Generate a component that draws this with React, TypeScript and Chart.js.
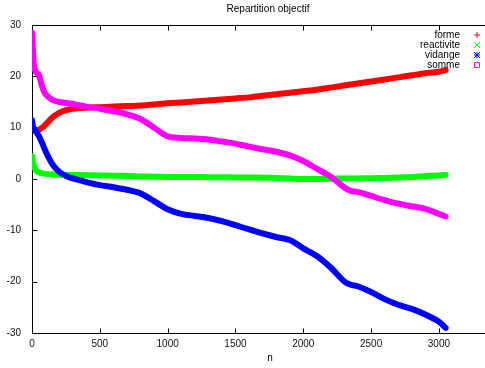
import React, { useEffect, useRef } from "react";
import { Chart, registerables } from "chart.js";

Chart.register(...registerables);

const TITLE = "Repartition objectif";
const X_LABEL = "n";
const X_TICKS = [0, 500, 1000, 1500, 2000, 2500, 3000];
const Y_TICKS = [-30, -20, -10, 0, 10, 20, 30];

const n = [0, 5, 15, 30, 50, 75, 100, 150, 200, 250, 300, 400, 500, 600, 700, 800, 900, 1000, 1100, 1200, 1300, 1400, 1500, 1600, 1700, 1800, 1900, 2000, 2100, 2200, 2300, 2350, 2400, 2500, 2600, 2700, 2800, 2900, 3000, 3050];

const forme = [10.2, 9.9, 9.7, 9.5, 9.6, 10.0, 10.6, 12.0, 12.9, 13.4, 13.7, 13.9, 14.0, 14.1, 14.2, 14.3, 14.5, 14.75, 14.9, 15.1, 15.3, 15.5, 15.7, 15.9, 16.2, 16.5, 16.8, 17.1, 17.4, 17.8, 18.2, 18.4, 18.6, 19.0, 19.4, 19.8, 20.2, 20.6, 20.9, 21.2];

const reactivite = [4.5, 3.5, 2.5, 1.6, 1.3, 1.1, 1.0, 0.9, 0.85, 0.8, 0.8, 0.75, 0.7, 0.65, 0.6, 0.5, 0.45, 0.4, 0.4, 0.4, 0.35, 0.35, 0.3, 0.3, 0.25, 0.2, 0.1, 0.0, 0.0, 0.05, 0.1, 0.1, 0.1, 0.15, 0.2, 0.3, 0.4, 0.55, 0.7, 0.8];

const vidange = [11.5, 10.5, 9.8, 9.2, 8.4, 7.0, 5.4, 2.9, 1.4, 0.6, 0.1, -0.6, -1.2, -1.6, -2.1, -2.8, -4.3, -5.9, -6.8, -7.2, -7.6, -8.2, -9.0, -9.8, -10.6, -11.3, -11.9, -13.5, -15.0, -17.2, -19.9, -20.6, -20.9, -22.0, -23.4, -24.5, -25.3, -26.4, -27.8, -29.0];

const somme = [28.5, 26.0, 22.0, 20.8, 20.3, 18.0, 16.5, 15.4, 15.0, 14.8, 14.6, 14.1, 13.7, 13.2, 12.6, 11.7, 10.0, 8.3, 8.0, 7.9, 7.7, 7.3, 6.9, 6.3, 5.8, 5.3, 4.6, 3.5, 2.0, 0.5, -1.6, -2.3, -2.5, -3.3, -4.1, -4.8, -5.3, -5.8, -6.8, -7.3];

const SERIES = [
  { label: "forme", values: forme, color: "#ff0000", marker: "plus" },
  { label: "reactivite", values: reactivite, color: "#00ff00", marker: "cross" },
  { label: "vidange", values: vidange, color: "#0000ff", marker: "star" },
  { label: "somme", values: somme, color: "#ff00ff", marker: "square" },
];

const FONT = "'Liberation Sans', Arial, Helvetica, sans-serif";

function drawMarker(ctx: CanvasRenderingContext2D, kind: string, x: number, y: number, color: string) {
  const r = 3;
  ctx.save();
  ctx.strokeStyle = color;
  ctx.lineWidth = 1;
  ctx.beginPath();
  if (kind === "plus" || kind === "star") {
    ctx.moveTo(x - r, y); ctx.lineTo(x + r, y);
    ctx.moveTo(x, y - r); ctx.lineTo(x, y + r);
  }
  if (kind === "cross" || kind === "star") {
    ctx.moveTo(x - r, y - r); ctx.lineTo(x + r, y + r);
    ctx.moveTo(x - r, y + r); ctx.lineTo(x + r, y - r);
  }
  if (kind === "square") {
    ctx.rect(x - r + 0.5, y - r + 0.5, 2 * r - 1, 2 * r - 1);
  }
  ctx.stroke();
  ctx.restore();
}

const framePlugin = {
  id: "gnuframe",
  beforeDatasetsDraw(chart: any) {
    const { ctx, chartArea } = chart;
    const xs = chart.scales.x;
    const ys = chart.scales.y;
    const L = Math.round(chartArea.left) + 0.5;
    const T = Math.round(chartArea.top) + 0.5;
    const B = Math.round(chartArea.bottom) + 0.5;
    const R = chartArea.right;
    ctx.save();
    ctx.strokeStyle = "#000";
    ctx.lineWidth = 1;
    ctx.beginPath();
    ctx.moveTo(R, T); ctx.lineTo(L, T); ctx.lineTo(L, B); ctx.lineTo(R, B);
    const tl = 5;
    X_TICKS.forEach((v) => {
      const px = Math.round(xs.getPixelForValue(v)) + 0.5;
      ctx.moveTo(px, B); ctx.lineTo(px, B - tl);
      ctx.moveTo(px, T); ctx.lineTo(px, T + tl);
    });
    Y_TICKS.forEach((v) => {
      const py = Math.round(ys.getPixelForValue(v)) + 0.5;
      ctx.moveTo(L, py); ctx.lineTo(L + tl, py);
    });
    ctx.stroke();
    ctx.restore();
  },
  afterDraw(chart: any) {
    const { ctx, chartArea } = chart;
    ctx.save();
    ctx.fillStyle = "#000";
    ctx.font = `10px ${FONT}`;
    ctx.textAlign = "center";
    ctx.textBaseline = "middle";
    ctx.fillText(TITLE, 268, 9);
    ctx.fillText(X_LABEL, 270, 358);
    ctx.textAlign = "right";
    const rowY = [35, 45, 55, 65];
    SERIES.forEach((s, i) => {
      ctx.fillStyle = "#000";
      ctx.fillText(s.label, 460, rowY[i]);
      drawMarker(ctx, s.marker, 477, rowY[i], s.color);
    });
    ctx.restore();
  },
};

export default function App() {
  const canvasRef = useRef<HTMLCanvasElement | null>(null);

  useEffect(() => {
    document.body.style.margin = "0";
    const canvas = canvasRef.current;
    if (!canvas) return;
    const datasets = SERIES.map((s, i) => ({
      label: s.label,
      data: n.map((x, k) => ({ x, y: s.values[k] })),
      borderColor: s.color,
      backgroundColor: s.color,
      borderWidth: 6,
      borderCapStyle: "round" as const,
      borderJoinStyle: "round" as const,
      pointRadius: 0,
      tension: 0.3,
      fill: false,
      order: SERIES.length - i,
    }));
    const chart = new Chart(canvas, {
      type: "line",
      data: { datasets },
      options: {
        responsive: false,
        animation: false,
        devicePixelRatio: 1,
        layout: { padding: { top: 25, left: 0, right: 0, bottom: 0 } },
        plugins: {
          legend: { display: false },
          title: { display: false },
          tooltip: { enabled: false },
        },
        scales: {
          x: {
            type: "linear",
            min: 0,
            max: 3340,
            afterFit: (scale: any) => { scale.height = 35; },
            afterBuildTicks: (scale: any) => {
              scale.ticks = X_TICKS.map((v) => ({ value: v }));
            },
            grid: { display: true, drawOnChartArea: false, drawTicks: false, color: "rgba(0,0,0,0)" },
            border: { display: false },
            ticks: {
              padding: 5,
              maxRotation: 0,
              autoSkip: false,
              color: "#111",
              font: { family: FONT, size: 10 },
              callback: (v: any) => String(v),
            },
          },
          y: {
            type: "linear",
            min: -30,
            max: 30,
            afterFit: (scale: any) => { scale.width = 32; },
            afterBuildTicks: (scale: any) => {
              scale.ticks = Y_TICKS.map((v) => ({ value: v }));
            },
            grid: { display: true, drawOnChartArea: false, drawTicks: false, color: "rgba(0,0,0,0)" },
            border: { display: false },
            ticks: {
              padding: 11,
              color: "#111",
              font: { family: FONT, size: 10 },
              callback: (v: any) => String(v),
            },
          },
        },
      },
      plugins: [framePlugin],
    });
    return () => chart.destroy();
  }, []);

  return (
    <div style={{ width: 485, height: 368, background: "#fff" }}>
      <canvas ref={canvasRef} width={485} height={368} />
    </div>
  );
}
